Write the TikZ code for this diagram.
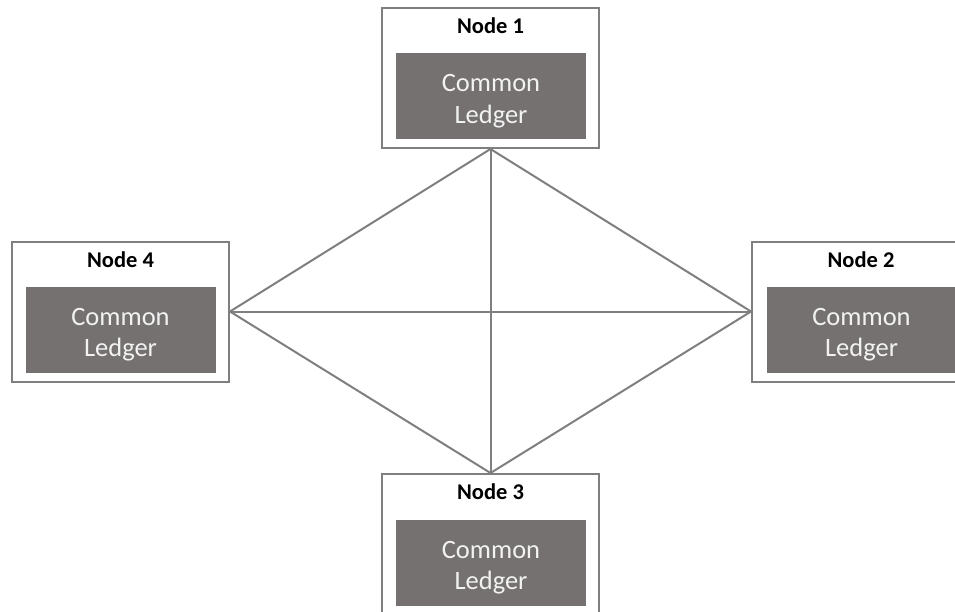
\documentclass[tikz,border=0pt]{standalone}
\usepackage{fontspec}
\setmainfont{Carlito}
\definecolor{edgegray}{HTML}{7F7F7F}
\definecolor{ledgerfill}{HTML}{767171}
\definecolor{ledgertext}{HTML}{F2F2F2}
\begin{document}
\begin{tikzpicture}[x=1pt,y=-1pt,
  outerbox/.style={draw=edgegray,line width=2pt,fill=white,minimum width=217pt,minimum height=140pt,inner sep=0pt},
  ledgerbox/.style={fill=ledgerfill,minimum width=190pt,minimum height=86pt,inner sep=0pt},
  ledgerword/.style={text=ledgertext,inner sep=0pt,anchor=base,font=\fontsize{26.5}{30}\selectfont},
  titletext/.style={font=\fontsize{22.5}{26}\selectfont\bfseries,text=black,inner sep=0pt,anchor=base},
  link/.style={draw=edgegray,line width=2pt}]
\useasboundingbox (0,0) rectangle (955,611);
\clip (0,0) rectangle (955,611);
\node[outerbox] (n1) at (490.5,78) {};
\node[outerbox] (n4) at (120.5,311.5) {};
\node[outerbox] (n2) at (860.5,311.5) {};
\node[outerbox] (n3) at (490.5,544) {};
\node[ledgerbox] (l1) at (491,96) {};
\node[ledgerbox] (l4) at (120.5,329.5) {};
\node[ledgerbox] (l2) at (861.5,329.5) {};
\node[ledgerbox] (l3) at (491,562.5) {};
\node[ledgerword] (c1) at ([yshift=4.5pt]l1.center) {Common};
\node[ledgerword] (d1) at ([yshift=-27pt]l1.center) {Ledger};
\node[ledgerword] (c4) at ([yshift=4.5pt]l4.center) {Common};
\node[ledgerword] (d4) at ([yshift=-27pt]l4.center) {Ledger};
\node[ledgerword] (c2) at ([yshift=4.5pt]l2.center) {Common};
\node[ledgerword] (d2) at ([yshift=-27pt]l2.center) {Ledger};
\node[ledgerword] (c3) at ([yshift=4.5pt]l3.center) {Common};
\node[ledgerword] (d3) at ([yshift=-27pt]l3.center) {Ledger};
\node[titletext] (t1) at (490.5,33.5) {Node 1};
\node[titletext] (t4) at (120.5,267.5) {Node 4};
\node[titletext] (t2) at (861,267.5) {Node 2};
\node[titletext] (t3) at (490.5,499.5) {Node 3};
\draw[link] (n1.south) -- (n4.east);
\draw[link] (n1.south) -- (n2.west);
\draw[link] (n1.south) -- (n3.north);
\draw[link] (n4.east) -- (n2.west);
\draw[link] (n4.east) -- (n3.north);
\draw[link] (n2.west) -- (n3.north);
\end{tikzpicture}
\end{document}
